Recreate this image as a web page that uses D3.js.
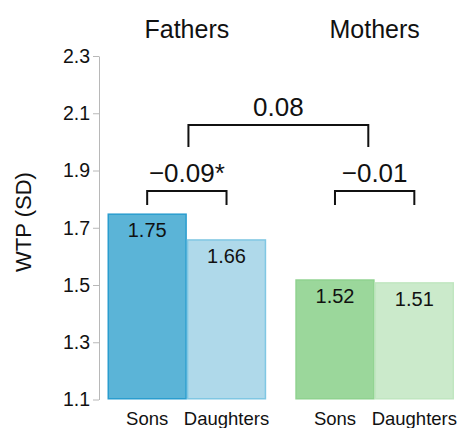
<!DOCTYPE html>
<html><head><meta charset="utf-8">
<script src="https://cdn.jsdelivr.net/npm/d3@7"></script>
<style>
html,body{margin:0;padding:0;background:#fff;}
svg{display:block;font-family:"Liberation Sans",Arial,sans-serif;}
</style></head><body>
<svg id="chart" width="461" height="428"></svg>
<script>
// Willingness to pay (in SD units) by parent and child gender
const groups = ["Fathers", "Mothers"];
const children = ["Sons", "Daughters"];
const fathersWTP = [1.75, 1.66];
const mothersWTP = [1.52, 1.51];
const withinGapLabels = ["\u22120.09*", "\u22120.01"];
const betweenGapLabel = "0.08";
const yTickValues = [1.1, 1.3, 1.5, 1.7, 1.9, 2.1, 2.3];

const values = {Fathers: fathersWTP, Mothers: mothersWTP};
const fills = {Fathers: ["#5bb4d7", "#afd9ea"], Mothers: ["#9bd79b", "#cbeacb"]};
const strokes = {Fathers: ["#2a9dcf", "#80c7e3"], Mothers: ["#8fd28f", "#c0e6c0"]};

const svg = d3.select("#chart");
const y = d3.scaleLinear().domain([1.1, 2.3]).range([399.5, 56]);
const xGroup = d3.scaleBand().domain(groups).range([107.5, 454])
  .paddingInner(0.155).paddingOuter(0);
const xChild = d3.scaleBand().domain(children).range([0, xGroup.bandwidth()]).padding(0);

// y axis
const yAxis = svg.append("g")
  .attr("transform", "translate(99,0)")
  .call(d3.axisLeft(y).tickValues(yTickValues).tickFormat(d3.format(".1f")).tickSizeOuter(0));
yAxis.select(".domain").attr("stroke", "#b8b8b8").attr("stroke-width", 1);
yAxis.selectAll(".tick line").attr("stroke", "#b8b8b8");
yAxis.selectAll(".tick text")
  .attr("fill", "#111")
  .style("font-size", "19.5px");

svg.append("text")
  .attr("transform", "translate(31,222) rotate(-90)")
  .attr("text-anchor", "middle")
  .attr("fill", "#111")
  .style("font-size", "22px")
  .text("WTP (SD)");

// bars
const sw = 1.5;
groups.forEach(g => {
  const gx = xGroup(g);
  const gEl = svg.append("g").attr("transform", `translate(${gx},0)`);
  children.forEach((c, i) => {
    const v = values[g][i];
    gEl.append("rect")
      .attr("x", xChild(c) + sw / 2)
      .attr("y", y(v) + sw / 2)
      .attr("width", xChild.bandwidth() - sw)
      .attr("height", y(1.1) - y(v) - sw)
      .attr("fill", fills[g][i])
      .attr("stroke", strokes[g][i])
      .attr("stroke-width", sw);
    gEl.append("text")
      .attr("x", xChild(c) + xChild.bandwidth() / 2)
      .attr("y", y(v) + 24)
      .attr("text-anchor", "middle")
      .attr("fill", "#111")
      .style("font-size", "20px")
      .text(d3.format(".2f")(v));
    gEl.append("text")
      .attr("x", xChild(c) + xChild.bandwidth() / 2)
      .attr("y", 425)
      .attr("text-anchor", "middle")
      .attr("fill", "#111")
      .style("font-size", "18.5px")
      .text(c);
  });
  svg.append("text")
    .attr("x", gx + xGroup.bandwidth() / 2)
    .attr("y", 38)
    .attr("text-anchor", "middle")
    .attr("fill", "#111")
    .style("font-size", "25px")
    .text(g);
});

// difference brackets
function bracket(x0, x1, top, drop, label, labelGap) {
  const path = d3.path();
  path.moveTo(x0, top + drop);
  path.lineTo(x0, top);
  path.lineTo(x1, top);
  path.lineTo(x1, top + drop);
  svg.append("path")
    .attr("d", path.toString())
    .attr("fill", "none")
    .attr("stroke", "#111")
    .attr("stroke-width", 2);
  svg.append("text")
    .attr("x", (x0 + x1) / 2)
    .attr("y", top - labelGap)
    .attr("text-anchor", "middle")
    .attr("fill", "#111")
    .style("font-size", "26px")
    .text(label);
}

groups.forEach((g, i) => {
  const cx = c => xGroup(g) + xChild(c) + xChild.bandwidth() / 2;
  bracket(cx("Sons"), cx("Daughters"), 191, 14, withinGapLabels[i], 9);
});
bracket(xGroup("Fathers") + xGroup.bandwidth() * 0.51,
        xGroup("Mothers") + xGroup.bandwidth() * 0.46,
        125, 22, betweenGapLabel, 9);
</script>
</body></html>
